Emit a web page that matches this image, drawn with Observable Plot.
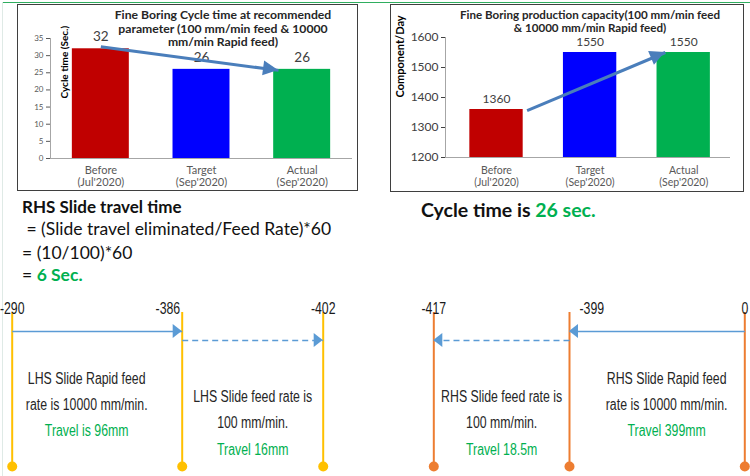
<!DOCTYPE html>
<html>
<head>
<meta charset="utf-8">
<script src="https://cdn.jsdelivr.net/npm/d3@7"></script>
<script src="https://cdn.jsdelivr.net/npm/@observablehq/plot@0.6"></script>
<style>
  html, body { margin: 0; padding: 0; background: #fff; }
  #root { position: relative; width: 750px; height: 476px; overflow: hidden; background: #fff; font-family: Lato, "Open Sans", sans-serif; }
  #root > * { position: absolute; }
  .box { border: 1px solid #3f3f3f; box-sizing: border-box; }
  .title { font-weight: bold; color: #262626; text-align: center; white-space: nowrap; }
  .calc { font-family: Lato, sans-serif; color: #111; white-space: pre; }
</style>
</head>
<body>
<div id="root"></div>
<script>
// ---------------- data ----------------
const periods = ["Before", "Target", "Actual"];
const periodDates = ["(Jul'2020)", "(Sep'2020)", "(Sep'2020)"];
const cycleTime = [32, 26, 26];
const capacity = [1360, 1550, 1550];
const barColors = ["#C00000", "#0000FF", "#00B050"];
const cycleTicks = [0, 5, 10, 15, 20, 25, 30, 35];
const capacityTicks = [1200, 1300, 1400, 1500, 1600];
const cycleTitle = ["Fine Boring Cycle time at recommended", "parameter (100 mm/min feed & 10000", "mm/min Rapid feed)"];
const capacityTitle = ["Fine Boring production capacity(100 mm/min feed", "& 10000 mm/min Rapid feed)"];
const cycleAxisLabel = "Cycle time (Sec.)";
const capacityAxisLabel = "Component/Day";
// trend arrows (category index, value)
const cycleTrend = [{x1: 0, y1: 32.6, x2: 1.765, y2: 25.7}];
const capacityTrend = [{x1: 0.327, y1: 1356, x2: 1.804, y2: 1550}];

const lhsStops = ["-290", "-386", "-402"];
const rhsStops = ["-417", "-399", "0"];
const lhsMoves = [{from: 0, to: 1, lane: "rapid"}, {from: 1, to: 2, lane: "feed"}];
const rhsMoves = [{from: 2, to: 1, lane: "rapid"}, {from: 1, to: 0, lane: "feed"}];
const lhsNotes = [
  {from: 0, to: 1, lane: "rapid", lines: ["LHS Slide Rapid feed", "rate is 10000 mm/min.", "Travel is 96mm"]},
  {from: 1, to: 2, lane: "feed", lines: ["LHS Slide feed rate is", "100 mm/min.", "Travel 16mm"]}
];
const rhsNotes = [
  {from: 0, to: 1, lane: "feed", lines: ["RHS Slide feed rate is", "100 mm/min.", "Travel 18.5m"]},
  {from: 1, to: 2, lane: "rapid", lines: ["RHS Slide Rapid feed", "rate is 10000 mm/min.", "Travel 399mm"]}
];
const calcLines = ["RHS Slide travel time", " = (Slide travel eliminated/Feed Rate)*60", "= (10/100)*60", "= ", "6 Sec."];
const cycleStatement = ["Cycle time is ", "26 sec."];

// ---------------- helpers ----------------
const GREEN = "#00B050";
const ARROW_BLUE = "#4A7EBB";
const ARIAL = '"Liberation Sans", Arial, sans-serif';
const root = document.getElementById("root");
function put(el, left, top) { el.style.left = left + "px"; el.style.top = top + "px"; root.appendChild(el); return el; }
function div(cls, html, style) { const d = document.createElement("div"); d.className = cls; d.innerHTML = html; Object.assign(d.style, style || {}); return d; }

// filled triangular arrow heads drawn through the plot's scales
function arrowHeads(segs, {len = 14, wid = 14, fill = ARROW_BLUE, x1 = "x1", y1 = "y1", x2 = "x2", y2 = "y2"} = {}) {
  return (index, scales) => {
    const g = d3.create("svg:g");
    const X = scales.x, Y = scales.y;
    for (const s of segs) {
      const ax = X(s[x1]), ay = Y(s[y1]), bx = X(s[x2]), by = Y(s[y2]);
      const a = Math.atan2(by - ay, bx - ax);
      const cx = bx - len * Math.cos(a), cy = by - len * Math.sin(a);
      const px = -Math.sin(a) * wid / 2, py = Math.cos(a) * wid / 2;
      g.append("path").attr("d", `M${bx},${by}L${cx + px},${cy + py}L${cx - px},${cy - py}Z`).attr("fill", fill);
    }
    return g.node();
  };
}
// condense every text of an svg horizontally around its anchor (emulates a narrow typeface)
function condense(svg, factor) {
  svg.querySelectorAll("text").forEach(t => {
    const tr = t.getAttribute("transform");
    if (tr) t.setAttribute("transform", `${tr} scale(${factor},1)`);
  });
}

// ---------------- frame decorations ----------------
put(div("", "", {width: "750px", height: "0", borderTop: "1.5px solid #2fae5f"}), 3, 2);
put(div("", "", {width: "0", height: "476px", borderLeft: "1px solid #dfeae6"}), 2, 2);
put(div("box", "", {width: "341px", height: "187px"}), 17, 4);
put(div("box", "", {width: "354px", height: "188px"}), 390, 4);

// ---------------- cycle time chart ----------------
const cycleRows = periods.map((p, i) => ({i, period: p, date: periodDates[i], value: cycleTime[i]}));
const cyclePlot = Plot.plot({
  width: 375, height: 200,
  marginLeft: 50, marginRight: 23, marginTop: 38, marginBottom: 42,
  style: {background: "transparent", fontFamily: "Lato, sans-serif", fontSize: "8px", color: "#595959", overflow: "visible"},
  x: {type: "linear", domain: [-0.5, 2.5], axis: null},
  y: {type: "linear", domain: [0, 35], ticks: cycleTicks, tickSize: 4, tickPadding: 3, tickFormat: d3.format("d"), label: null},
  color: {domain: periods, range: barColors},
  marks: [
    Plot.rectY(cycleRows, {x1: d => d.i - 0.283, x2: d => d.i + 0.283, y1: 0, y2: "value", fill: "period"}),
    Plot.ruleX([-0.5], {stroke: "#a6a6a6"}),
    Plot.ruleY([0], {stroke: "#a6a6a6"}),
    Plot.text(cycleRows, {x: "i", y: "value", text: d => String(d.value), dy: -12, fontSize: 13.5, fill: "#404040"}),
    Plot.text(cycleRows, {x: "i", frameAnchor: "bottom", dy: 15.5, text: "period", fontSize: 11, fill: "#595959"}),
    Plot.text(cycleRows, {x: "i", frameAnchor: "bottom", dy: 27.5, text: "date", fontSize: 11, fill: "#595959"}),
    Plot.text([cycleAxisLabel], {frameAnchor: "left", dx: 14, rotate: -90, text: d => d, fontWeight: "bold", fontSize: 10, fill: "#000"}),
    Plot.link(cycleTrend, {x1: "x1", y1: "y1", x2: "x2", y2: "y2", stroke: ARROW_BLUE, strokeWidth: 3}),
    arrowHeads(cycleTrend, {len: 15, wid: 15})
  ]
});
put(cyclePlot, 0, 0);
put(div("title", cycleTitle.join("<br>"), {fontSize: "12.2px", lineHeight: "13.5px", width: "300px"}), 73, 8);

// ---------------- capacity chart ----------------
const capRows = periods.map((p, i) => ({i, period: p, date: periodDates[i], value: capacity[i]}));
const capPlot = Plot.plot({
  width: 375, height: 200,
  marginLeft: 70, marginRight: 20, marginTop: 37, marginBottom: 43,
  style: {background: "transparent", fontFamily: "Lato, sans-serif", fontSize: "12px", color: "#404040", overflow: "visible"},
  x: {type: "linear", domain: [-0.545, 2.5], axis: null},
  y: {type: "linear", domain: [1200, 1600], ticks: capacityTicks, tickSize: 4, tickPadding: 3, tickFormat: d3.format("d"), label: null},
  color: {domain: periods, range: barColors},
  marks: [
    Plot.rectY(capRows, {x1: d => d.i - 0.285, x2: d => d.i + 0.285, y1: 1200, y2: "value", fill: "period"}),
    Plot.ruleX([-0.545], {stroke: "#a6a6a6"}),
    Plot.ruleY([1200], {stroke: "#a6a6a6"}),
    Plot.text(capRows, {x: "i", y: "value", text: d => String(d.value), dy: -10.5, fontSize: 12, fill: "#404040"}),
    Plot.text(capRows, {x: "i", frameAnchor: "bottom", dy: 16.5, text: "period", fontSize: 10.5, fill: "#595959"}),
    Plot.text(capRows, {x: "i", frameAnchor: "bottom", dy: 28, text: "date", fontSize: 10.5, fill: "#595959"}),
    Plot.text([capacityAxisLabel], {frameAnchor: "left", dx: -45, rotate: -90, text: d => d, fontWeight: "bold", fontSize: 11, fill: "#000"}),
    Plot.link(capacityTrend, {x1: "x1", y1: "y1", x2: "x2", y2: "y2", stroke: ARROW_BLUE, strokeWidth: 3}),
    arrowHeads(capacityTrend, {len: 15, wid: 15})
  ]
});
put(capPlot, 375, 0);
put(div("title", capacityTitle.join("<br>"), {fontSize: "11.6px", lineHeight: "13.3px", width: "320px"}), 430, 7.5);

// ---------------- calculation text ----------------
put(div("calc", `<b>${calcLines[0]}</b>`, {fontSize: "17px", lineHeight: "20px"}), 22, 196.7);
put(div("calc", calcLines[1], {fontSize: "17.5px", lineHeight: "20px"}), 22, 219.3);
put(div("calc", calcLines[2], {fontSize: "17.5px", lineHeight: "20px"}), 22, 242.7);
put(div("calc", `${calcLines[3]}<b style="color:${GREEN}">${calcLines[4]}</b>`, {fontSize: "17.5px", lineHeight: "20px"}), 22, 265);
put(div("calc", `<b>${cycleStatement[0]}<span style="color:${GREEN}">${cycleStatement[1]}</span></b>`, {fontSize: "19.5px", lineHeight: "22px"}), 421, 199);

// ---------------- travel diagrams ----------------
function travelPlot(stops, moves, notes, stopXs, lineColor, labelAnchors, outward) {
  const idx = stops.map((_, i) => i);
  const mid = n => (n.from + n.to) / 2;
  const noteTop = {rapid: 60, feed: 78.3};
  const noteMarks = [];
  for (const n of notes) {
    n.lines.forEach((line, k) => {
      noteMarks.push(Plot.text([n], {
        x: mid, frameAnchor: "top", dy: noteTop[n.lane] + k * 26.2, dx: n.lane === "rapid" ? outward : 0,
        text: () => line, fontSize: 16, fill: k === 2 ? GREEN : "#262626", fontFamily: ARIAL
      }));
    });
  }
  const labelMarks = stops.map((s, i) => Plot.text([i], {
    x: d => d, frameAnchor: "top", dy: -9.5, text: () => s, fontSize: 16, fill: "#1a1a1a",
    textAnchor: labelAnchors[i][0], dx: labelAnchors[i][1], fontFamily: ARIAL
  }));
  return Plot.plot({
    width: 375, height: 196,
    marginTop: 32, marginBottom: 10, marginLeft: 0, marginRight: 0,
    style: {background: "transparent", overflow: "visible"},
    x: {type: "linear", domain: idx, range: stopXs, axis: null},
    y: {type: "point", domain: ["rapid", "feed"], range: [46.7, 65], axis: null},
    marks: [
      Plot.ruleX(idx, {stroke: lineColor, strokeWidth: 2}),
      Plot.dot(idx, {x: d => d, frameAnchor: "bottom", r: 5, fill: lineColor}),
      Plot.link(moves.filter(m => m.lane === "rapid"), {x1: "from", x2: "to", y1: "lane", y2: "lane", stroke: "#5B9BD5", strokeWidth: 1.6}),
      Plot.link(moves.filter(m => m.lane === "feed"), {x1: "from", x2: "to", y1: "lane", y2: "lane", stroke: "#5B9BD5", strokeWidth: 1.6, strokeDasharray: "6,4"}),
      arrowHeads(moves, {len: 9, wid: 14, fill: "#5B9BD5", x1: "from", x2: "to", y1: "lane", y2: "lane"}),
      ...labelMarks,
      ...noteMarks
    ]
  });
}
const lhsPlot = put(travelPlot(lhsStops, lhsMoves, lhsNotes, [11.7, 181.7, 322.7], "#FFC000",
  [["middle", 0], ["end", -2], ["middle", 0]], -10.5), 0, 280);
const rhsPlot = put(travelPlot(rhsStops, rhsMoves, rhsNotes, [58.3, 194, 369.3], "#ED7D31",
  [["middle", 0], ["start", 10], ["middle", 0]], 9.5), 375, 280);
condense(lhsPlot, 0.77);
condense(rhsPlot, 0.77);
</script>
</body>
</html>
